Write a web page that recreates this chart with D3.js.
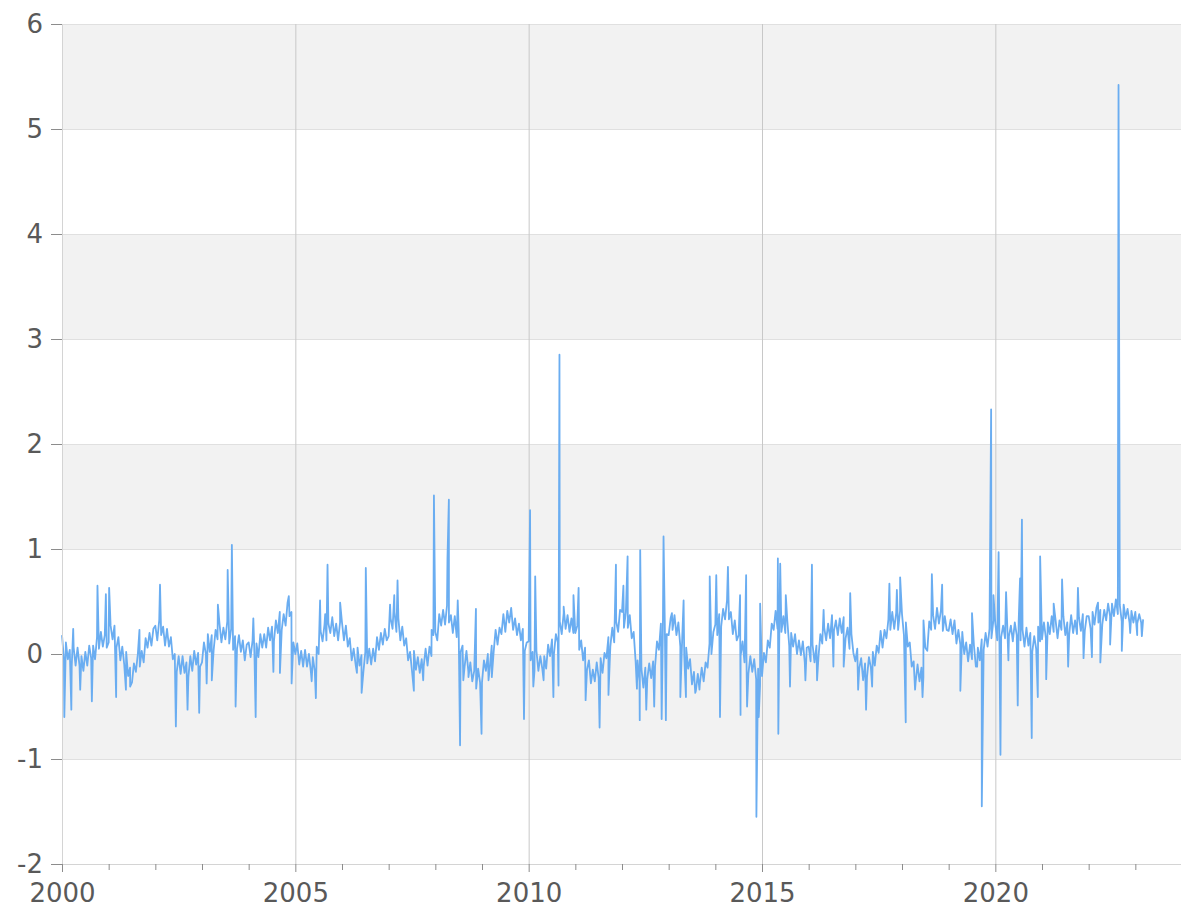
<!DOCTYPE html>
<html>
<head>
<meta charset="utf-8">
<script src="https://cdn.jsdelivr.net/npm/d3@7"></script>
<style>
  body { margin: 0; background: #fff; }
  svg text { font-family: "DejaVu Sans", Verdana, sans-serif; fill: #595959; }
  .grid line { stroke: #e0e0e0; }
  .grid path { display: none; }
  .vgrid line { stroke: #c8c8c8; }
  .vgrid path { display: none; }
  .axis path { stroke: #d4d4d4; }
  .axis line { stroke: #8c8c8c; }
  .line { fill: none; stroke: #6aadf1; stroke-width: 1.8; stroke-linejoin: round; }
</style>
</head>
<body>
<div id="chart"></div>
<script>
// values sampled twice a month, starting at 2000.0
var startYear = 2000;
var perYear = 24;

var baseValues = [
  // 2000
  0.18,-0.05,0.11,-0.05,0.04,-0.12,0.06,-0.11,0.06,-0.11,-0.02,-0.16,0.02,-0.11,0.08,-0.04,0.08,-0.05,0.16,0.05,0.21,0.07,0.18,0.06,
  // 2001
  0.11,0.27,0.14,0.27,0.06,0.16,-0.06,0.07,-0.10,0.02,-0.21,-0.13,-0.27,-0.09,-0.17,0.00,-0.12,0.03,-0.08,0.15,0.06,0.20,0.08,0.24,
  // 2002
  0.27,0.13,0.32,0.18,0.26,0.08,0.24,0.07,0.16,-0.05,0.00,-0.17,-0.02,-0.19,-0.02,-0.18,-0.08,-0.22,-0.02,-0.16,0.03,-0.10,0.01,-0.12,
  // 2003
  -0.08,0.11,0.00,0.19,0.02,0.18,0.04,0.23,0.14,0.29,0.11,0.25,0.14,0.31,0.10,0.24,0.04,0.17,0.05,0.18,0.02,0.13,-0.06,0.09,
  // 2004
  0.11,-0.03,0.13,-0.03,0.10,-0.03,0.19,0.06,0.19,0.06,0.25,0.13,0.26,0.12,0.32,0.20,0.40,0.23,0.38,0.27,0.49,0.36,0.40,0.11,
  // 2005
  0.00,0.10,-0.10,0.03,-0.12,0.04,-0.12,0.00,-0.17,-0.03,-0.16,0.07,0.00,0.22,0.12,0.28,0.13,0.29,0.20,0.35,0.17,0.29,0.13,0.30,
  // 2006
  0.30,0.13,0.27,0.07,0.15,-0.06,0.05,-0.10,0.06,-0.11,-0.01,-0.17,0.02,-0.09,0.05,-0.10,0.05,-0.07,0.16,0.04,0.20,0.09,0.24,0.13,
  // 2007
  0.17,0.34,0.24,0.40,0.21,0.34,0.13,0.26,0.08,0.15,-0.06,0.02,-0.16,0.03,-0.15,-0.03,-0.18,-0.05,-0.12,0.05,-0.11,0.07,-0.02,0.18,
  // 2008
  0.21,0.13,0.38,0.27,0.42,0.28,0.46,0.30,0.37,0.20,0.36,0.16,0.23,0.02,0.08,-0.13,0.03,-0.17,-0.08,-0.26,-0.16,-0.33,-0.14,-0.27,
  // 2009
  -0.27,-0.06,-0.16,0.00,-0.13,0.08,0.02,0.23,0.09,0.25,0.19,0.38,0.21,0.41,0.30,0.44,0.23,0.34,0.18,0.29,0.13,0.24,0.03,0.11,
  // 2010
  0.12,-0.06,0.02,-0.16,0.03,-0.16,-0.02,-0.14,-0.02,-0.14,0.09,-0.02,0.14,0.00,0.19,0.11,0.31,0.19,0.39,0.24,0.37,0.21,0.34,0.20,
  // 2011
  0.20,0.27,0.04,0.13,-0.06,0.06,-0.15,-0.06,-0.28,-0.15,-0.26,-0.08,-0.23,-0.04,-0.18,0.01,-0.04,0.16,0.07,0.25,0.11,0.31,0.21,0.42,
  // 2012
  0.40,0.25,0.40,0.25,0.37,0.15,0.21,-0.07,-0.06,-0.26,-0.14,-0.32,-0.13,-0.24,-0.09,-0.23,-0.07,-0.12,0.12,0.04,0.29,0.18,0.31,0.19,
  // 2013
  0.18,0.34,0.23,0.37,0.18,0.30,0.07,0.17,-0.01,0.06,-0.14,-0.05,-0.29,-0.17,-0.35,-0.19,-0.29,-0.13,-0.26,-0.08,-0.13,0.10,0.00,0.21,
  // 2014
  0.28,0.18,0.38,0.26,0.43,0.33,0.51,0.33,0.40,0.19,0.32,0.13,0.18,-0.02,0.12,-0.08,-0.01,-0.19,-0.02,-0.17,-0.05,-0.24,-0.14,-0.30,
  // 2015
  -0.21,0.01,-0.08,0.13,0.06,0.29,0.23,0.41,0.24,0.37,0.21,0.36,0.20,0.32,0.08,0.20,0.07,0.19,0.00,0.13,-0.01,0.12,-0.08,0.06,
  // 2016
  0.07,-0.07,0.09,-0.08,0.08,-0.04,0.19,0.10,0.25,0.13,0.29,0.15,0.37,0.22,0.32,0.18,0.34,0.20,0.35,0.15,0.25,0.05,0.19,0.01,
  // 2017
  -0.07,0.05,-0.14,-0.04,-0.25,-0.09,-0.22,-0.03,-0.13,0.02,-0.11,0.08,0.01,0.22,0.06,0.23,0.15,0.33,0.23,0.40,0.24,0.39,0.23,0.41,
  // 2018
  0.38,0.18,0.30,0.07,0.11,-0.12,-0.07,-0.27,-0.10,-0.26,-0.13,-0.22,0.06,0.03,0.31,0.23,0.37,0.24,0.44,0.29,0.41,0.22,0.36,0.23,
  // 2019
  0.22,0.33,0.19,0.32,0.10,0.23,0.09,0.21,0.00,0.11,-0.07,0.09,-0.05,0.08,-0.12,0.06,-0.06,0.14,0.04,0.20,0.07,0.24,0.15,0.32,
  // 2020
  0.29,0.13,0.32,0.16,0.27,0.15,0.34,0.17,0.27,0.12,0.30,0.18,0.31,0.13,0.23,0.07,0.25,0.08,0.20,0.02,0.17,0.05,0.26,0.12,
  // 2021
  0.14,0.30,0.15,0.30,0.19,0.36,0.21,0.32,0.15,0.32,0.23,0.36,0.18,0.30,0.19,0.37,0.20,0.32,0.19,0.35,0.22,0.38,0.22,0.36,
  // 2022
  0.36,0.24,0.40,0.28,0.44,0.30,0.42,0.28,0.42,0.32,0.48,0.36,0.48,0.36,0.52,0.38,0.47,0.31,0.47,0.34,0.43,0.30,0.41,0.30,
  // 2023
  0.40,0.29,0.38,0.30,0.33
];

// single-day outliers
var spikeYears = [
  2000.05, 2000.20, 2000.24, 2000.39, 2000.64, 2000.76, 2000.94, 2001.01, 2001.16, 2001.37,
  2001.46, 2001.66, 2002.10, 2002.44, 2002.69, 2002.94, 2003.10, 2003.21, 2003.34, 2003.55,
  2003.64, 2003.72, 2004.10, 2004.15, 2004.53, 2004.67, 2004.86, 2004.92, 2005.35, 2005.44,
  2005.53, 2005.64, 2005.69, 2005.96, 2006.32, 2006.42, 2006.51, 2007.03, 2007.12, 2007.19,
  2007.54, 2007.74, 2007.92, 2007.97, 2008.26, 2008.29, 2008.48, 2008.53, 2008.60, 2008.71,
  2008.87, 2008.99, 2009.14, 2009.21, 2009.90, 2010.03, 2010.10, 2010.14, 2010.32, 2010.53,
  2010.64, 2010.66, 2010.75, 2010.96, 2011.07, 2011.22, 2011.52, 2011.71, 2011.87, 2012.03,
  2012.12, 2012.32, 2012.38, 2012.39, 2012.52, 2012.69, 2012.85, 2012.89, 2012.94, 2013.07,
  2013.25, 2013.32, 2013.37, 2013.57, 2013.66, 2013.88, 2014.02, 2014.10, 2014.27, 2014.53,
  2014.54, 2014.66, 2014.68, 2014.88, 2014.93, 2014.96, 2015.34, 2015.35, 2015.39, 2015.51,
  2015.60, 2015.93, 2016.07, 2016.18, 2016.32, 2016.53, 2016.75, 2016.89, 2017.06, 2017.23,
  2017.36, 2017.73, 2017.89, 2017.96, 2018.08, 2018.28, 2018.44, 2018.46, 2018.64, 2018.86,
  2019.25, 2019.50, 2019.61, 2019.71, 2019.91, 2019.96, 2020.07, 2020.11, 2020.23, 2020.28,
  2020.48, 2020.53, 2020.57, 2020.78, 2020.91, 2020.96, 2021.09, 2021.25, 2021.43, 2021.56,
  2021.77, 2021.89, 2022.07, 2022.20, 2022.25, 2022.46, 2022.64, 2022.71, 2022.89, 2023.04,
  2023.14
];
var spikeValues = [
  -0.60, -0.53, 0.24, -0.34, -0.45, 0.65, 0.57, 0.63, -0.41, -0.34,
  -0.31, 0.23, 0.66, -0.69, -0.53, -0.56, -0.28, -0.25, 0.47, 0.80,
  1.04, -0.50, 0.34, -0.60, -0.17, -0.18, 0.55, -0.28, -0.26, -0.42,
  0.51, 0.38, 0.85, 0.49, -0.18, -0.37, 0.82, 0.47, 0.56, 0.70,
  -0.35, -0.25, 0.23, 1.51, 0.91, 1.47, 0.51, -0.87, -0.25, -0.22,
  0.43, -0.76, -0.25, -0.22, -0.62, 1.37, -0.31, 0.74, -0.25, -0.41,
  -0.30, 2.85, 0.45, 0.56, 0.63, -0.44, -0.70, -0.39, 0.85, 0.65,
  0.93, -0.33, -0.63, 0.99, -0.53, -0.50, -0.62, 1.12, -0.63, 0.39,
  -0.41, 0.51, -0.41, -0.37, -0.34, 0.74, 0.75, -0.60, 0.83, 0.56,
  -0.58, 0.75, -0.50, -1.55, -0.60, 0.48, 0.91, -0.76, 0.86, 0.56,
  -0.31, -0.25, 0.85, -0.25, 0.42, -0.12, -0.12, 0.58, -0.34, -0.53,
  -0.31, 0.67, 0.61, 0.73, -0.65, -0.34, -0.41, 0.32, 0.76, 0.66,
  -0.35, 0.39, -0.12, -1.45, 2.33, 0.56, 0.97, -0.96, 0.59, -0.06,
  -0.49, 0.72, 1.28, -0.80, -0.41, 0.93, -0.24, 0.48, 0.71, -0.12,
  0.63, -0.04, -0.03, 0.49, -0.08, 0.09, 5.42, 0.03, 0.20, 0.18,
  0.17
];

var yTicks = [-2, -1, 0, 1, 2, 3, 4, 5, 6];
var xMinorTicks = d3.range(2000, 2024);
var xLabelYears = [2000, 2005, 2010, 2015, 2020];
var shadedBands = [-1, 1, 3, 5];

var margins = { top: 24, right: 0, bottom: 44, left: 62 };
var width = 1181;
var height = 908;
var chartWidth = 1120;
var chartHeight = height - margins.top - margins.bottom;

var formatData = function() {
  var points = baseValues.map(function(v, i) {
    return { year: startYear + i / perYear, amt: v };
  });
  spikeYears.forEach(function(y, i) {
    points.push({ year: y, amt: spikeValues[i] });
  });
  points.sort(function(a, b) { return a.year - b.year; });
  return points;
};

var renderLineChart = function(data) {
  var svg = d3.select('#chart')
    .append('svg')
    .attr('width', width)
    .attr('height', height);

  var chartElement = svg.append('g')
    .attr('transform', 'translate(' + margins.left + ',' + margins.top + ')');

  var xScale = d3.scaleLinear().domain([2000, 2024]).range([0, chartWidth]);
  var yScale = d3.scaleLinear().domain([-2, 6]).range([chartHeight, 0]);

  // alternating bands
  chartElement.append('g')
    .selectAll('rect')
    .data(shadedBands)
    .enter()
    .append('rect')
    .attr('x', 0)
    .attr('width', chartWidth)
    .attr('y', d => yScale(d + 1))
    .attr('height', d => yScale(d) - yScale(d + 1))
    .attr('fill', '#f2f2f2');

  // horizontal grid
  chartElement.append('g')
    .attr('class', 'grid')
    .call(d3.axisLeft(yScale).tickValues(yTicks).tickSize(-chartWidth).tickFormat(''));

  // vertical grid every 5 years
  chartElement.append('g')
    .attr('class', 'vgrid')
    .attr('transform', 'translate(0,' + chartHeight + ')')
    .call(d3.axisBottom(xScale).tickValues(xLabelYears.slice(1)).tickSize(-chartHeight).tickFormat(''));

  // right border
  chartElement.append('line')
    .attr('x1', chartWidth - 0.5)
    .attr('x2', chartWidth - 0.5)
    .attr('y1', 0)
    .attr('y2', chartHeight)
    .attr('stroke', '#e0e0e0');

  var line = d3.line()
    .x(d => xScale(d.year))
    .y(d => yScale(d.amt));

  chartElement.append('path')
    .attr('class', 'line')
    .attr('d', line(data));

  // axes
  var yAxis = chartElement.append('g')
    .attr('class', 'axis')
    .call(d3.axisLeft(yScale).tickValues(yTicks).tickSize(11).tickPadding(8).tickSizeOuter(0)
      .tickFormat(d => String(d)));
  yAxis.selectAll('text').style('font-size', '26px');

  var xAxis = chartElement.append('g')
    .attr('class', 'axis')
    .attr('transform', 'translate(0,' + chartHeight + ')')
    .call(d3.axisBottom(xScale).tickValues(xMinorTicks).tickSize(6).tickSizeOuter(0).tickPadding(14)
      .tickFormat(d => xLabelYears.indexOf(d) > -1 ? String(d) : ''));
  xAxis.selectAll('text').style('font-size', '26px');
  xAxis.selectAll('.tick line').attr('y2', d => xLabelYears.indexOf(d) > -1 ? 8 : 6);
};

renderLineChart(formatData());
</script>
</body>
</html>
